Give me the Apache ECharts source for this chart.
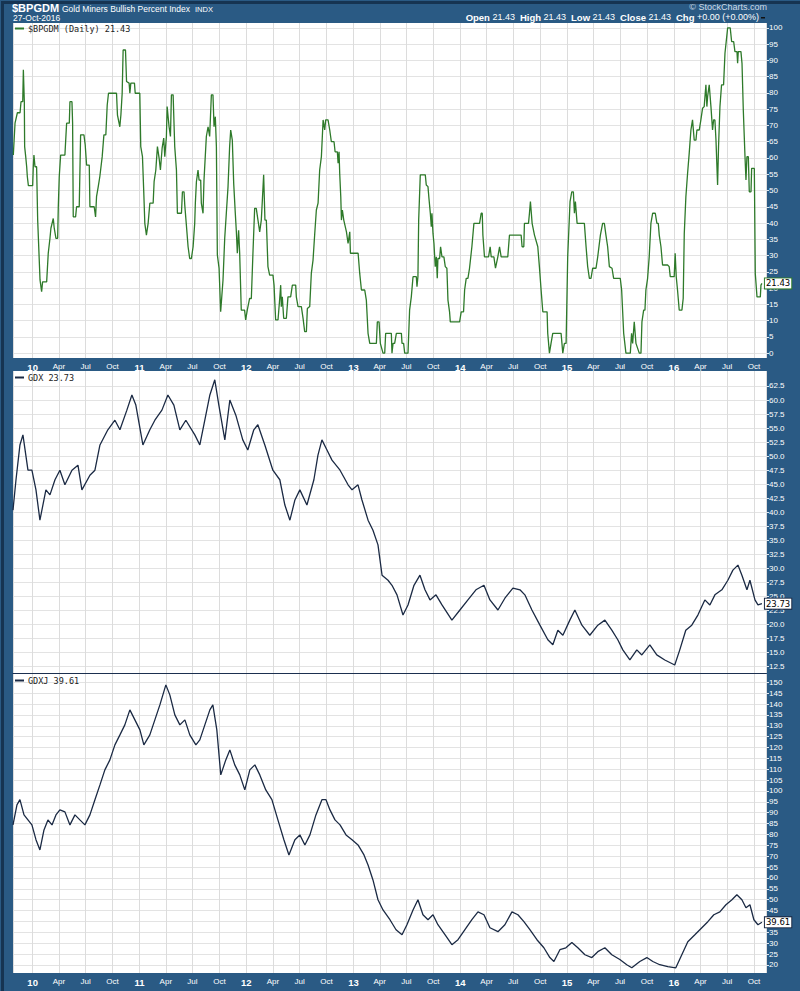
<!DOCTYPE html>
<html>
<head>
<meta charset="utf-8">
<script src="https://cdn.jsdelivr.net/npm/echarts@6/dist/echarts.min.js"></script>
<style>html,body{margin:0;padding:0;background:#2a5a84;}#c{width:800px;height:991px;}</style>
</head>
<body>
<div id="c"></div>
<script>
// ---- DATA (time as decimal years) ----
const bpiT = [2009.819,2009.835,2009.857,2009.882,2009.891,2009.907,2009.913,2009.922,2009.925,2009.935,2009.944,2009.950,2009.960,2010.000,2010.006,2010.012,2010.022,2010.037,2010.047,2010.069,2010.084,2010.093,2010.131,2010.146,2010.162,2010.171,2010.193,2010.202,2010.218,2010.234,2010.240,2010.249,2010.262,2010.302,2010.312,2010.318,2010.343,2010.349,2010.368,2010.374,2010.380,2010.402,2010.411,2010.436,2010.449,2010.480,2010.492,2010.505,2010.530,2010.536,2010.576,2010.589,2010.598,2010.614,2010.629,2010.651,2010.667,2010.685,2010.698,2010.710,2010.785,2010.794,2010.816,2010.826,2010.838,2010.847,2010.869,2010.879,2010.903,2010.910,2010.919,2010.953,2010.960,2011.003,2011.012,2011.028,2011.040,2011.050,2011.065,2011.081,2011.097,2011.128,2011.137,2011.153,2011.168,2011.184,2011.196,2011.212,2011.227,2011.237,2011.252,2011.259,2011.277,2011.290,2011.299,2011.315,2011.330,2011.346,2011.355,2011.393,2011.402,2011.417,2011.424,2011.439,2011.455,2011.470,2011.486,2011.502,2011.517,2011.523,2011.533,2011.548,2011.558,2011.573,2011.579,2011.595,2011.604,2011.626,2011.642,2011.657,2011.673,2011.688,2011.698,2011.710,2011.720,2011.729,2011.745,2011.760,2011.782,2011.798,2011.813,2011.829,2011.844,2011.854,2011.869,2011.882,2011.897,2011.907,2011.916,2011.928,2011.938,2011.953,2011.984,2011.994,2012.009,2012.031,2012.047,2012.062,2012.078,2012.093,2012.109,2012.125,2012.140,2012.150,2012.162,2012.174,2012.187,2012.202,2012.218,2012.249,2012.259,2012.274,2012.296,2012.312,2012.321,2012.327,2012.336,2012.349,2012.374,2012.389,2012.414,2012.430,2012.461,2012.467,2012.483,2012.514,2012.530,2012.545,2012.561,2012.570,2012.592,2012.607,2012.623,2012.639,2012.654,2012.670,2012.685,2012.701,2012.717,2012.732,2012.741,2012.763,2012.779,2012.794,2012.819,2012.829,2012.850,2012.857,2012.866,2012.872,2012.882,2012.888,2012.897,2012.910,2012.935,2012.950,2012.966,2012.972,2013.044,2013.059,2013.075,2013.106,2013.121,2013.137,2013.153,2013.215,2013.224,2013.240,2013.252,2013.277,2013.293,
2013.302,2013.355,2013.361,2013.371,2013.386,2013.402,2013.449,2013.455,2013.470,2013.480,2013.511,2013.526,2013.542,2013.558,2013.589,2013.595,2013.604,2013.611,2013.626,2013.673,2013.682,2013.698,2013.707,2013.720,2013.729,2013.735,2013.745,2013.754,2013.766,2013.776,2013.785,2013.791,2013.807,2013.816,2013.829,2013.847,2013.860,2013.875,2013.885,2013.900,2013.907,2013.994,2014.009,2014.031,2014.041,2014.056,2014.072,2014.087,2014.109,2014.128,2014.181,2014.196,2014.206,2014.212,2014.227,2014.265,2014.280,2014.290,2014.315,2014.330,2014.352,2014.368,2014.383,2014.445,2014.461,2014.570,2014.579,2014.595,2014.601,2014.639,2014.648,2014.657,2014.673,2014.695,2014.726,2014.741,2014.757,2014.773,2014.813,2014.819,2014.835,2014.850,2014.866,2014.944,2014.960,2014.975,2014.991,2015.006,2015.028,2015.044,2015.059,2015.069,2015.078,2015.094,2015.162,2015.178,2015.193,2015.209,2015.224,2015.240,2015.271,2015.287,2015.312,2015.333,2015.349,2015.364,2015.380,2015.396,2015.421,2015.436,2015.498,2015.511,2015.530,2015.551,2015.592,2015.604,2015.614,2015.629,2015.645,2015.676,2015.692,2015.701,2015.717,2015.729,2015.738,2015.754,2015.769,2015.785,2015.801,2015.826,2015.841,2015.854,2015.863,2015.879,2015.894,2015.941,2015.956,2015.966,2016.003,2016.012,2016.022,2016.034,2016.050,2016.075,2016.087,2016.097,2016.112,2016.128,2016.143,2016.159,2016.174,2016.190,2016.206,2016.215,2016.237,2016.252,2016.268,2016.283,2016.299,2016.308,2016.315,2016.330,2016.346,2016.361,2016.371,2016.383,2016.393,2016.408,2016.417,2016.430,2016.445,2016.464,2016.477,2016.502,2016.526,2016.539,2016.558,2016.570,2016.589,2016.595,2016.601,2016.626,2016.636,2016.648,2016.664,2016.673,2016.682,2016.695,2016.704,2016.720,2016.726,2016.751,2016.760,2016.776,2016.807,2016.813,2016.822];
const bpiV = [60.9,70.7,73.9,73.9,77.3,77.3,87.1,77.3,63.5,60.4,57.3,54.3,51.5,51.5,57.3,60.9,57.3,57.3,40.9,22.5,18.9,21.9,21.9,30.7,35.3,38.4,41.4,38.4,35.3,35.3,45.0,54.3,60.9,60.9,67.1,70.7,70.7,77.3,77.3,70.7,41.9,41.9,45.0,45.0,67.1,67.1,64.0,57.8,57.8,45.0,45.0,41.9,48.1,51.2,54.3,60.4,67.1,67.1,76.3,79.9,79.9,73.2,69.6,73.2,79.9,93.2,93.2,83.5,83.0,79.9,83.0,83.0,79.9,79.9,63.5,60.4,49.6,39.9,36.3,39.9,46.1,46.1,52.7,56.3,63.5,59.9,56.3,63.0,66.1,60.4,66.6,75.8,69.6,66.6,79.4,79.4,63.5,56.3,43.0,43.0,49.6,49.6,45.5,39.4,32.7,29.1,29.1,32.7,39.9,46.1,52.7,56.3,53.2,53.2,46.1,43.0,53.2,66.6,69.6,66.6,79.4,79.4,69.6,72.7,63.5,30.2,26.1,12.7,22.5,35.3,43.0,51.2,63.5,68.6,65.5,52.2,43.0,37.3,30.7,37.8,30.7,13.2,13.2,10.2,13.2,16.8,16.8,30.7,44.5,44.5,40.9,37.3,40.9,47.1,54.8,40.9,40.9,26.6,24.0,24.0,20.9,10.2,10.2,16.8,20.9,14.3,17.3,10.7,10.7,17.3,17.3,20.9,20.9,17.3,14.3,14.3,10.7,6.6,6.6,13.7,14.3,24.5,28.6,36.8,44.0,46.1,56.3,60.4,71.7,68.6,71.7,71.7,68.6,65.0,65.0,61.9,61.9,58.4,61.9,55.3,48.1,40.9,44.0,40.9,37.3,33.7,37.3,30.7,30.7,24.5,19.4,19.4,16.3,6.1,3.0,3.0,9.6,9.6,3.0,0,0,
6.1,6.1,0,3.0,3.0,6.1,6.1,3.0,3.0,0,0,13.2,17.3,23.5,23.5,20.4,23.5,40.9,54.8,54.8,51.7,51.2,47.6,43.0,38.9,43.0,36.8,33.7,26.6,29.6,23.0,29.1,29.1,32.7,29.6,29.6,26.6,26.1,16.3,12.7,9.6,9.6,12.7,12.7,19.4,23.0,23.0,26.1,32.7,39.9,39.9,43.0,43.0,36.3,29.6,29.6,32.7,29.6,29.6,26.1,29.6,32.7,29.6,29.6,36.3,36.3,32.7,32.7,39.9,39.9,43.0,46.6,39.9,36.3,32.7,26.6,19.4,12.7,12.7,6.1,0,3.0,6.1,6.1,0,3.0,3.0,29.6,46.6,49.6,49.6,43.0,46.6,39.9,39.9,32.7,26.6,23.0,23.0,26.1,26.1,29.6,36.3,39.9,39.9,36.3,32.7,26.6,26.1,23.0,23.0,19.4,6.1,0,0,6.1,3.0,9.6,3.0,0,0,9.6,13.2,13.2,19.4,23.0,29.6,39.9,43.0,43.0,39.9,39.9,36.3,32.7,27.1,27.1,26.6,23.5,23.5,30.7,23.5,19.4,13.2,13.2,16.8,36.8,48.1,55.3,61.4,68.6,71.7,65.5,65.5,68.6,68.6,71.7,75.3,75.8,82.5,75.8,78.9,82.5,75.8,68.6,71.7,71.7,65.5,51.7,63.5,75.8,82.5,82.5,92.2,100,100,95.8,95.8,92.7,92.7,89.1,92.7,92.7,89.1,74.8,60.4,53.2,60.4,60.4,49.6,49.6,56.8,56.8,24.5,17.3,17.3,20.9,21.43];

const gdxT = [2009.816,2009.844,2009.881,2009.909,2009.956,2009.993,2010.031,2010.068,2010.124,2010.162,2010.209,2010.255,2010.302,2010.368,2010.424,2010.461,2010.536,2010.583,2010.630,2010.704,2010.770,2010.817,2010.882,2010.929,2010.966,2011.032,2011.097,2011.144,2011.210,2011.266,2011.322,2011.378,2011.434,2011.518,2011.565,2011.621,2011.659,2011.705,2011.743,2011.799,2011.846,2011.902,2011.967,2012.014,2012.070,2012.108,2012.173,2012.248,2012.313,2012.360,2012.407,2012.454,2012.500,2012.566,2012.631,2012.669,2012.706,2012.753,2012.800,2012.875,2012.950,2012.987,2013.043,2013.080,2013.137,2013.183,2013.230,2013.268,2013.324,2013.361,2013.408,2013.464,2013.511,2013.567,2013.623,2013.670,2013.717,2013.773,2013.829,2013.922,2013.997,2014.072,2014.147,2014.222,2014.278,2014.353,2014.418,2014.493,2014.559,2014.605,2014.671,2014.746,2014.820,2014.867,2014.914,2014.961,2015.026,2015.073,2015.139,2015.213,2015.288,2015.354,2015.419,2015.475,2015.522,2015.588,2015.653,2015.700,2015.775,2015.840,2015.915,2016.008,2016.055,2016.111,2016.167,2016.224,2016.289,2016.336,2016.383,2016.448,2016.504,2016.551,2016.598,2016.635,2016.682,2016.710,2016.757,2016.785,2016.822];
const gdxV = [40.4,45.8,52.0,53.8,47.5,47.5,44.0,38.6,44.0,43.1,45.8,47.5,44.9,47.5,48.4,44.0,46.6,47.5,52.0,54.7,56.4,54.7,58.2,60.9,59.1,52.0,54.7,56.4,58.2,60.9,59.1,54.7,56.4,53.8,52.0,57.3,60.9,63.6,59.1,52.9,60.0,57.3,52.9,51.1,54.7,55.6,52.0,47.5,45.8,41.3,38.6,42.2,44.0,41.3,45.8,50.2,52.9,51.1,49.3,47.5,44.9,44.0,44.9,42.2,38.6,36.8,34.2,28.8,27.9,27.0,25.3,21.7,23.5,27.0,28.8,26.2,24.4,25.3,23.5,20.8,22.6,24.4,26.2,27.0,24.4,22.6,24.7,26.5,26.2,25.3,22.6,19.9,17.3,16.4,19.0,18.1,20.8,22.6,19.9,18.1,19.9,20.8,19.0,17.3,15.5,13.7,15.5,14.6,16.4,14.6,13.7,12.8,15.5,19.0,19.9,21.7,24.4,23.5,25.3,26.2,27.9,29.7,30.6,28.8,26.2,27.9,24.4,23.5,23.73];

const gdxjT = [2009.816,2009.853,2009.881,2009.919,2009.956,2009.993,2010.031,2010.068,2010.106,2010.143,2010.181,2010.218,2010.255,2010.302,2010.349,2010.396,2010.442,2010.489,2010.536,2010.583,2010.630,2010.676,2010.723,2010.770,2010.817,2010.863,2010.910,2010.957,2011.004,2011.041,2011.097,2011.144,2011.191,2011.247,2011.284,2011.331,2011.378,2011.425,2011.471,2011.528,2011.565,2011.612,2011.659,2011.687,2011.724,2011.761,2011.808,2011.846,2011.892,2011.939,2011.986,2012.033,2012.080,2012.126,2012.182,2012.239,2012.295,2012.351,2012.398,2012.454,2012.500,2012.547,2012.594,2012.650,2012.706,2012.744,2012.781,2012.828,2012.875,2012.931,2012.987,2013.043,2013.099,2013.137,2013.183,2013.230,2013.277,2013.342,2013.399,2013.455,2013.501,2013.558,2013.604,2013.651,2013.698,2013.745,2013.791,2013.857,2013.922,2013.979,2014.044,2014.109,2014.166,2014.222,2014.278,2014.353,2014.418,2014.484,2014.540,2014.596,2014.652,2014.718,2014.783,2014.839,2014.877,2014.933,2014.989,2015.045,2015.101,2015.167,2015.232,2015.288,2015.354,2015.419,2015.494,2015.559,2015.606,2015.681,2015.747,2015.803,2015.868,2015.943,2016.018,2016.074,2016.130,2016.196,2016.261,2016.317,2016.373,2016.429,2016.486,2016.542,2016.588,2016.635,2016.673,2016.710,2016.747,2016.785,2016.822];
const gdxjV = [84.4,93.6,96.0,89.0,86.7,84.4,77.6,72.9,82.1,86.7,84.4,89.0,91.3,90.4,84.4,89.0,86.7,84.4,89.0,96.0,102.8,109.7,114.3,121.2,125.8,130.4,137.3,132.7,128.1,121.2,125.8,132.7,139.6,148.8,144.2,135.0,130.4,132.7,125.8,121.2,123.5,130.4,137.3,139.6,128.1,107.4,114.3,118.9,112.0,107.4,100.5,109.7,112.0,107.4,100.5,96.0,86.7,77.6,70.6,77.6,79.8,75.2,79.8,89.0,96.0,96.0,91.3,86.7,84.4,79.8,77.6,75.2,70.6,66.0,59.1,50.0,45.3,40.8,36.2,33.9,38.5,45.3,50.0,43.1,40.8,43.1,38.5,33.9,29.3,31.6,36.2,40.8,44.4,43.1,37.1,35.3,38.5,44.4,43.1,39.9,36.2,31.6,27.9,23.4,21.6,27.0,27.9,30.3,27.9,24.7,23.4,26.1,27.9,24.7,22.5,20.1,18.7,21.6,23.4,21.6,20.1,19.2,18.7,24.7,30.7,33.9,37.1,39.9,43.1,44.4,47.7,50.0,52.3,50.0,46.3,47.7,40.8,38.5,39.61];

const bpiTicks = [0,5,10,15,20,25,30,35,40,45,50,55,60,65,70,75,80,85,90,95,100];
const gdxTicks = [12.5,15,17.5,20,22.5,25,27.5,30,32.5,35,37.5,40,42.5,45,47.5,50,52.5,55,57.5,60,62.5];
const gdxjTicks = [20,25,30,35,40,45,50,55,60,65,70,75,80,85,90,95,100,105,110,115,120,125,130,135,140,145,150];
const monthLabels = {3:'Apr', 6:'Jul', 9:'Oct'};

// ---- helpers ----
function toTime(y){const yr=Math.floor(y);const a=new Date(yr,0,1).getTime();const b=new Date(yr+1,0,1).getTime();return a+(y-yr)*(b-a);}
function pairs(t,v){return t.map((x,i)=>[toTime(x),v[i]]);}
const xMin = toTime(2009.816), xMax = toTime(2016.86);
const BG = '#2a5a84';
const FONT = 'Liberation Sans';

function fmtX(v){
  const d=new Date(v);
  if(d.getDate()!==1) return '';
  const m=d.getMonth();
  if(m===0) return '{y|'+String(d.getFullYear()).slice(2)+'}';
  return monthLabels[m]||'';
}
function xAxis(i, showLabels){
  return {type:'time', gridIndex:i, min:xMin, max:xMax, splitNumber:28,
    minInterval:85*864e5, maxInterval:95*864e5,
    axisLine:{show:i===1, onZero:false, lineStyle:{color:'#1b2f4f', width:1}},
    axisTick:{show:false},
    axisLabel:{show:showLabels, showMinLabel:false, showMaxLabel:false, color:'#ffffff', fontSize:8, fontFamily:FONT, margin:4, formatter:fmtX,
      rich:{y:{fontWeight:'bold', fontSize:9.5, color:'#ffffff', fontFamily:FONT}}},
    splitLine:{show:true, lineStyle:{color:'#dcdcdc', width:1}}};
}
function yAxis(i,min,max,ticks,dec){
  return {type:'value', gridIndex:i, position:'right', min:min, max:max,
    axisLine:{show:false},
    axisTick:{show:true, length:3, inside:false, lineStyle:{color:'#dfe6ee'}, customValues:ticks},
    axisLabel:{color:'#ffffff', fontSize:8, fontFamily:FONT, margin:3, customValues:ticks,
      formatter:function(v){return dec? v.toFixed(1) : String(v);}},
    splitLine:{show:true, lineStyle:{color:'#e3e3e3', width:1}}};
}
function endLabel(txt, border){
  return {show:true, formatter:txt, color:'#000', backgroundColor:'#fff', borderColor:border, borderWidth:1,
    padding:[1,1,0,1], fontSize:8.5, fontFamily:'DejaVu Sans', distance:3};
}
function legend(top,name,label,color){
  return {left:15, top:top, padding:0, itemGap:4, data:[name], selectedMode:false,
    icon:'rect', itemWidth:9, itemHeight:2, formatter:function(){return label;},
    textStyle:{color:'#222', fontSize:8.5, fontFamily:'DejaVu Sans Mono', padding:[0,0,0,-1]},
    inactiveColor:color};
}

const chart = echarts.init(document.getElementById('c'), null, {renderer:'svg'});
const option = {
  animation:false,
  backgroundColor:BG,
  grid:[
    {left:13, top:23, width:753, height:335, show:true, backgroundColor:'#fff', borderWidth:0},
    {left:13, top:371, width:753, height:302, show:true, backgroundColor:'#fff', borderWidth:0},
    {left:13, top:674, width:753, height:299, show:true, backgroundColor:'#fff', borderWidth:0}
  ],
  xAxis:[xAxis(0,true), xAxis(1,false), xAxis(2,true)],
  yAxis:[
    yAxis(0,-1.5,101.5,bpiTicks,false),
    yAxis(1,11.38,65.17,gdxTicks,true),
    yAxis(2,16.3,153.8,gdxjTicks,false)
  ],
  legend:[
    legend(24,'$BPGDM','$BPGDM (Daily) 21.43','#2e7a2a'),
    legend(373,'GDX','GDX 23.73','#1b2a44'),
    legend(676,'GDXJ','GDXJ 39.61','#1b2a44')
  ],
  series:[
    {name:'$BPGDM', type:'line', xAxisIndex:0, yAxisIndex:0, data:pairs(bpiT,bpiV), showSymbol:false, symbol:'none',
      color:'#2e7a2a', lineStyle:{color:'#2e7a2a', width:1.3}, endLabel:endLabel('21.43','#2e7a2a')},
    {name:'GDX', type:'line', xAxisIndex:1, yAxisIndex:1, data:pairs(gdxT,gdxV), showSymbol:false, symbol:'none',
      color:'#1b2a44', lineStyle:{color:'#1b2a44', width:1.3}, endLabel:endLabel('23.73','#1b2a44')},
    {name:'GDXJ', type:'line', xAxisIndex:2, yAxisIndex:2, data:pairs(gdxjT,gdxjV), showSymbol:false, symbol:'none',
      color:'#1b2a44', lineStyle:{color:'#1b2a44', width:1.3}, endLabel:endLabel('39.61','#1b2a44')}
  ],
  graphic:[
    {type:'rect', left:0, top:0, shape:{x:0,y:0,width:800,height:991}, silent:true, z:100,
      style:{fill:'none', stroke:'#163452', lineWidth:3}},
    {type:'text', left:12, top:2, style:{text:'$BPGDM', fill:'#fff', font:'bold 11px "Liberation Sans"'}},
    {type:'text', left:62, top:4, style:{text:'Gold Miners Bullish Percent Index', fill:'#fff', font:'8.5px "Liberation Sans"'}},
    {type:'text', left:195, top:5, style:{text:'INDX', fill:'#fff', font:'7.5px "Liberation Sans"'}},
    {type:'text', left:13, top:13, style:{text:'27-Oct-2016', fill:'#fff', font:'8.5px "Liberation Sans"'}},
    {type:'text', right:33, top:2, style:{text:'\u00a9 StockCharts.com', fill:'#d0dbe6', font:'9px "Liberation Sans"'}},
    {type:'text', right:41, top:12, style:{
      text:'{b|Open} 21.43  {b|High} 21.43  {b|Low} 21.43  {b|Close} 21.43  {b|Chg} +0.00 (+0.00%)',
      fill:'#fff', font:'9px "Liberation Sans"',
      rich:{b:{fontWeight:'bold', fontSize:9.5, fill:'#fff', fontFamily:'Liberation Sans'}}}},
    {type:'rect', left:761, top:17, shape:{width:4,height:1.5}, style:{fill:'#111'}}
  ]
};
chart.setOption(option);
</script>
</body>
</html>
